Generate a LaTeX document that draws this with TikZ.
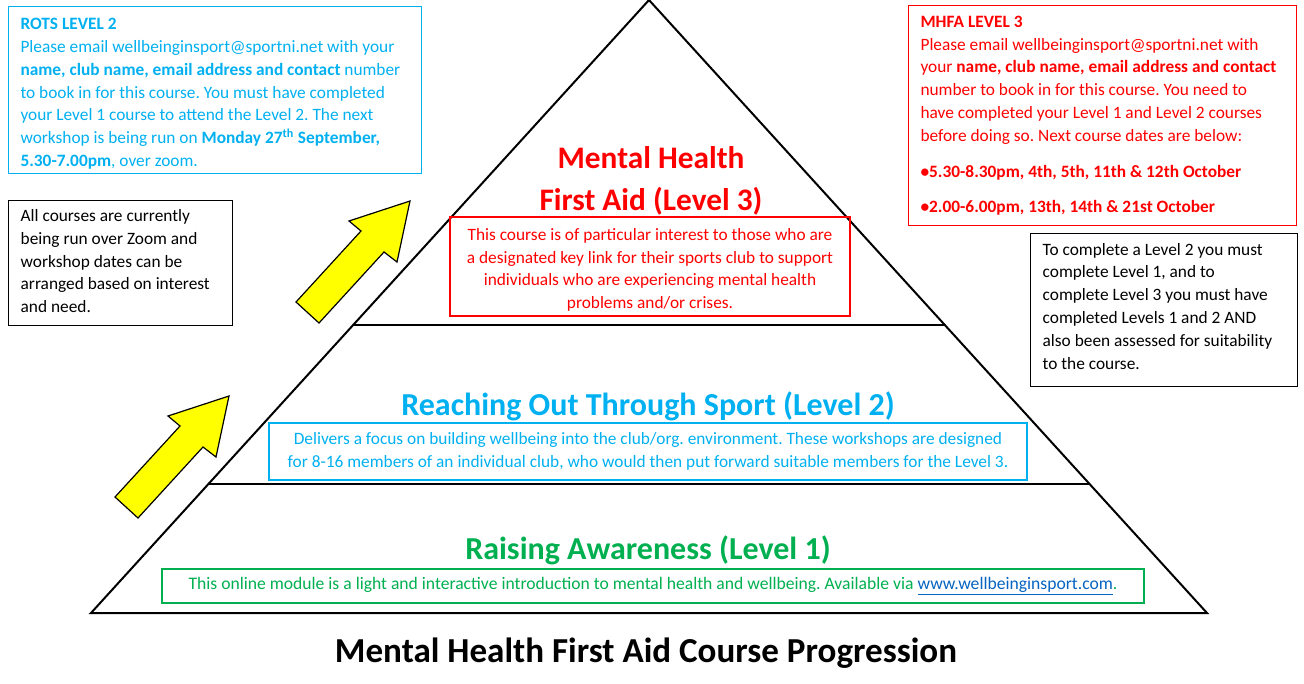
\documentclass[tikz,border=0pt]{standalone}
\usepackage{fontspec}
\setmainfont{Carlito}
\usepackage{tikz}
\usepackage{xcolor}
\usetikzlibrary{positioning,calc}
\definecolor{rotscyan} {HTML}{00B0F0}
\definecolor{mhfared}  {HTML}{FF0000}
\definecolor{awaregreen}{HTML}{00B050}
\definecolor{linkblue} {HTML}{0563C1}
\definecolor{climbyel} {HTML}{FFFF00}
\newcommand{\bodysize}{\fontsize{13}{17.1}\selectfont\frenchspacing}
\newcommand{\headsize}{\fontsize{24}{31.5}\selectfont\bfseries}
\newcommand{\toppad}{\rule{0pt}{14.2pt}}
% first line of a note, stretched to the full text width
\newcommand{\noteline}[2]{\makebox[#1][l]{#2}}
\tikzset{
  infobox/.style  ={draw, line width=0.8pt, anchor=north west, align=left,
                    inner xsep=9pt, inner ysep=0pt, font=\bodysize},
  cyanbox/.style  ={infobox, draw=rotscyan, text=rotscyan},
  redbox/.style   ={infobox, draw=mhfared, text=mhfared},
  blackbox/.style ={infobox, draw=black, line width=1pt},
  descbox/.style  ={draw, line width=0.8pt, align=center, inner sep=0pt,
                    font=\bodysize},
  tier/.style     ={align=center, font=\headsize},
  edge/.style     ={line width=1.5pt, line cap=round},
  climbarrow/.style={fill=climbyel, draw=black, line width=0.9pt, line join=miter},
  pics/climb/.style={code={
    \draw[climbarrow] (0,0) -- (-61,20) -- (-49,30) -- (-114,101)
      -- (-91,122) -- (-26,51) -- (-13,61) -- cycle;}},
}

\begin{document}
\begin{tikzpicture}[x=0.75pt,y=-0.75pt]
  \useasboundingbox (0,0) rectangle (1304,683);

  % pyramid
  \coordinate (apex) at (649,0);
  \coordinate (bl) at (91,613);
  \coordinate (br) at (1207,613);
  \coordinate (l3l) at ($(bl)!0.46982!(apex)$);
  \coordinate (l3r) at ($(br)!0.46982!(apex)$);
  \coordinate (l2l) at ($(bl)!0.21044!(apex)$);
  \coordinate (l2r) at ($(br)!0.21044!(apex)$);
  \draw[edge] (bl) -- (apex) -- (br) -- cycle;
  \draw[edge] (l3l) -- (l3r);
  \draw[edge] (l2l) -- (l2r);

  % tiers
  \node[tier, text=mhfared, font=\fontsize{23.5}{31.5}\selectfont\bfseries] (mhfa) at (651,181)
    {Mental Health\\First Aid (Level 3)};
  \node[descbox, draw=mhfared, text=mhfared, minimum width=300pt,
        minimum height=74.25pt] (mhfadesc) at (650,266.5)
    {\toppad This course is of particular interest to those who are\\
     a designated key link for their sports club to support\\
     individuals who are experiencing mental health\\
     problems and/or crises.};

  \node[tier, text=rotscyan] (rots) at (648,406) {Reaching Out Through Sport (Level 2)};
  \node[descbox, draw=rotscyan, text=rotscyan, minimum width=568.5pt,
        minimum height=42.75pt] (rotsdesc) at (648,451.5)
    {Delivers a focus on building wellbeing into the club/org. environment. These workshops are designed\\
     for 8-16 members of an individual club, who would then put forward suitable members for the Level 3.};

  \node[tier, text=awaregreen] (aware) at (648,550) {Raising Awareness (Level 1)};
  \node[descbox, draw=awaregreen, text=awaregreen, minimum width=736.5pt,
        minimum height=25.5pt, font=\fontsize{13.2}{17.1}\selectfont\frenchspacing] (awaredesc) at (653,586)
    {This online module is a light and interactive introduction to mental health and wellbeing. Available via \textcolor{linkblue}{\underline{www.wellbeinginsport.com}}.};

  % booking notes
  \node[cyanbox, minimum width=309.75pt, minimum height=125.25pt] (rotsnote) at (8,6)
    {\toppad\noteline{291.75pt}{\textbf{ROTS LEVEL 2}}\\
     Please email wellbeinginsport@sportni.net with your\\
     \textbf{name, club name, email address and contact} number\\
     to book in for this course. You must have completed\\
     your Level 1 course to attend the Level 2. The next\\
     workshop is being run on \textbf{Monday 27\textsuperscript{th} September,}\\
     \textbf{5.30-7.00pm}, over zoom.};

  \node[redbox, minimum width=291pt, minimum height=165pt] (mhfanote) at (908,5)
    {\noteline{273pt}{\textbf{MHFA LEVEL 3}}\\
     Please email wellbeinginsport@sportni.net with\\
     your \textbf{name, club name, email address and contact}\\
     number to book in for this course. You need to\\
     have completed your Level 1 and Level 2 courses\\
     before doing so. Next course dates are below:\\[10pt]
     \textbf{•5.30-8.30pm, 4th, 5th, 11th \& 12th October}\\[9pt]
     \textbf{•2.00-6.00pm, 13th, 14th \& 21st October}};

  \node[blackbox, minimum width=168pt, minimum height=93.75pt] (zoomnote) at (8,200)
    {\noteline{150pt}{All courses are currently}\\
     being run over Zoom and\\
     workshop dates can be\\
     arranged based on interest\\
     and need.\rule[-3pt]{0pt}{0pt}};

  \node[blackbox, minimum width=200.25pt, minimum height=114.75pt] (rulenote) at (1030,233)
    {\noteline{182.25pt}{To complete a Level 2 you must}\\
     complete Level 1, and to\\
     complete Level 3 you must have\\
     completed Levels 1 and 2 AND\\
     also been assessed for suitability\\
     to the course.\rule[-6pt]{0pt}{0pt}};

  % progression arrows
  \pic at (410,201) {climb};
  \pic at (229,396) {climb};

  \node[font=\fontsize{26.3}{30}\selectfont\bfseries] (title) at (646,653)
    {Mental Health First Aid Course Progression};
\end{tikzpicture}
\end{document}
